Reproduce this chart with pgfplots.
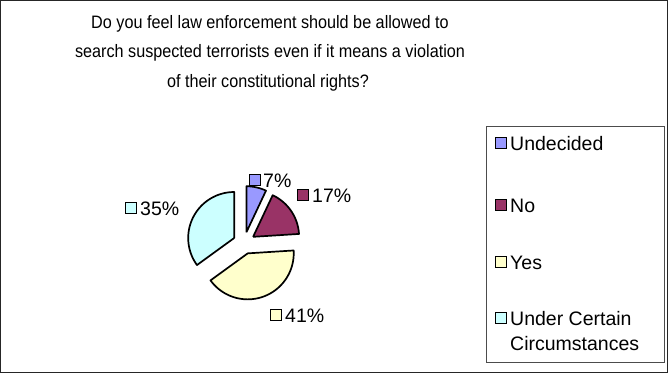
\documentclass[border=0pt]{standalone}
\usepackage{pgfplots}
\usepackage{pgfplotstable}
\pgfplotsset{compat=1.18}
\usepackage{fontspec}
\setmainfont{Liberation Sans}
\newfontfamily\titlefont{Liberation Sans}[FakeStretch=0.9]
\definecolor{cUnd}{RGB}{153,153,255}
\definecolor{cNo}{RGB}{153,51,102}
\definecolor{cYes}{RGB}{255,255,204}
\definecolor{cUcc}{RGB}{204,255,255}
\pgfplotstableread{
label value
Undecided 7
No 17
Yes 41
Under 35
}\piedata
\begin{document}
\begin{tikzpicture}
\pgfplotstablegetelem{0}{value}\of\piedata\let\vA\pgfplotsretval
\pgfplotstablegetelem{1}{value}\of\piedata\let\vB\pgfplotsretval
\pgfplotstablegetelem{2}{value}\of\piedata\let\vC\pgfplotsretval
\pgfplotstablegetelem{3}{value}\of\piedata\let\vD\pgfplotsretval
\pgfmathsetmacro\aA{90}
\pgfmathsetmacro\aB{\aA-3.6*\vA}
\pgfmathsetmacro\aC{\aB-3.6*\vB}
\pgfmathsetmacro\aD{\aC-3.6*\vC}
\pgfmathsetmacro\aE{\aD-3.6*\vD}
\def\cx{244}\def\cy{243}\def\R{46}\def\E{11}
\newcommand{\slice}[3]{%
  \addplot[fill=#3, draw=black, line width=1.7pt, line join=round,
    samples at={-1,0,...,60,61}, variable=\t]
  ({\cx + \E*cos((#1+#2)/2) + ((\t<0 || \t>60) ? 0 : \R)*cos(#1 + (#2-#1)*min(max(\t,0),60)/60)},
   {\cy - \E*sin((#1+#2)/2) - ((\t<0 || \t>60) ? 0 : \R)*sin(#1 + (#2-#1)*min(max(\t,0),60)/60)});
}
\begin{axis}[scale only axis, width=668pt, height=373pt,
  xmin=0, xmax=668, ymin=0, ymax=373, y dir=reverse,
  hide axis, clip=false, at={(0,0)}, anchor=south west]
\draw[black!85, line width=1pt] (axis cs:0.5,0.5) rectangle (axis cs:667.5,372.5);
\begin{scope}[every node/.style={font=\titlefont\fontsize{18}{20}\selectfont, anchor=base, inner sep=0pt}]
\node at (axis cs:270,28.5) {Do you feel law enforcement should be allowed to};
\node at (axis cs:270,57.5) {search suspected terrorists even if it means a violation};
\node at (axis cs:268,87) {of their constitutional rights?};
\end{scope}
\slice{\aA}{\aB}{cUnd}
\slice{\aB}{\aC}{cNo}
\slice{\aC}{\aD}{cYes}
\slice{\aD}{\aE}{cUcc}
\begin{scope}[every node/.style={font=\fontsize{19.5}{20}\selectfont, anchor=base west, inner sep=0pt}]
\node at (axis cs:263,187) {\vA\%};
\node at (axis cs:312,202) {\vB\%};
\node at (axis cs:140,215) {\vD\%};
\node at (axis cs:285,322) {\vC\%};
\end{scope}
\begin{scope}[every node/.style={draw=black, line width=1.5pt, minimum size=11pt, inner sep=0pt}]
\node[fill=cUnd] at (axis cs:255,180) {};
\node[fill=cNo] at (axis cs:303,195) {};
\node[fill=cUcc] at (axis cs:131,208) {};
\node[fill=cYes] at (axis cs:276,315) {};
\node[fill=cUnd] at (axis cs:501,143) {};
\node[fill=cNo] at (axis cs:501,205) {};
\node[fill=cYes] at (axis cs:501,262) {};
\node[fill=cUcc] at (axis cs:501,318) {};
\end{scope}
\draw[black!70, line width=0.8pt] (axis cs:486,126) rectangle (axis cs:664.5,362);
\begin{scope}[every node/.style={font=\fontsize{19.5}{25}\selectfont, anchor=base west, inner sep=0pt}]
\node at (axis cs:510,150) {Undecided};
\node at (axis cs:510,212) {No};
\node at (axis cs:510,269) {Yes};
\node at (axis cs:510,325) {Under Certain};
\node at (axis cs:510,350) {Circumstances};
\end{scope}
\end{axis}
\end{tikzpicture}
\end{document}
